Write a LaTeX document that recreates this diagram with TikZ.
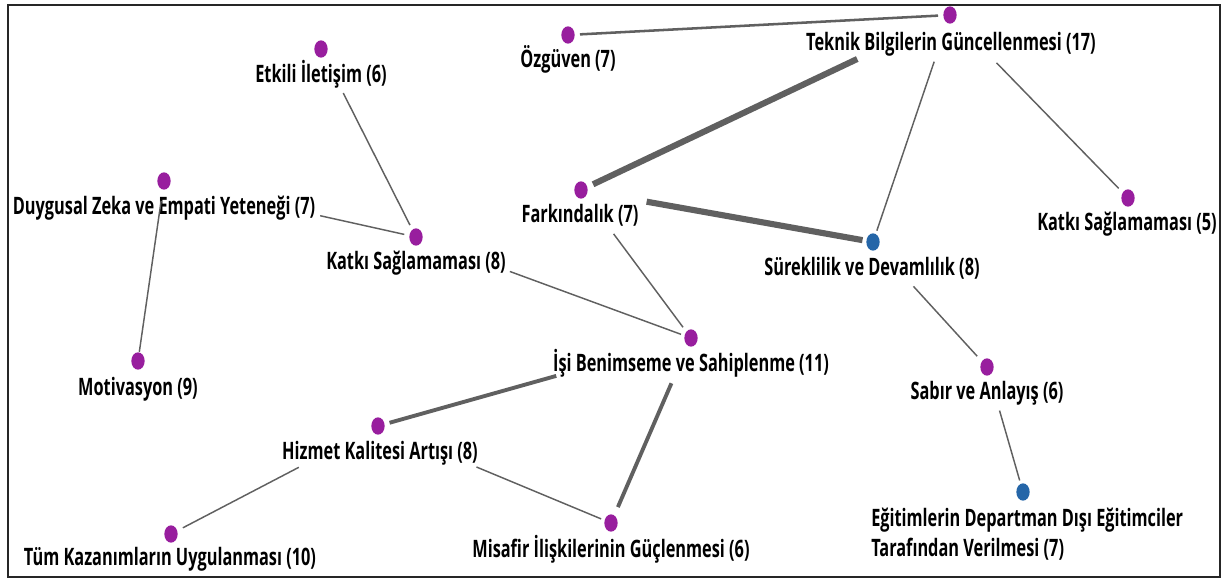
\documentclass[tikz,border=0pt]{standalone}
\usepackage{fontspec}
\setmainfont{Open Sans}[FakeStretch=0.68]
\usetikzlibrary{shapes.geometric}
\definecolor{dotpurple}{RGB}{152,30,158}
\definecolor{dotblue}{RGB}{37,102,168}
\definecolor{edgegray}{RGB}{96,96,96}
\tikzset{
  dotnode/.style={ellipse,fill=#1,draw=none,inner sep=0pt,minimum width=10pt,minimum height=13pt},
  lbl/.style={anchor=base,inner sep=0pt,font=\bfseries\fontsize{18}{24}\selectfont},
  lblw/.style={anchor=base west,inner sep=0pt,font=\bfseries\fontsize{18}{24}\selectfont},
  thinedge/.style={draw=edgegray,line width=1.1pt},
  midedge/.style={draw=edgegray,line width=1.9pt},
  semiedge/.style={draw=edgegray,line width=2.9pt},
  thickedge/.style={draw=edgegray,line width=4.6pt},
}
\begin{document}
\begin{tikzpicture}[x=0.75pt,y=-0.75pt]
\useasboundingbox (0,0) rectangle (1223,578);
\draw[line width=1.3pt,draw=black!85] (8,5) rectangle (1220,577);

% dots
\node[dotnode=dotpurple] (etk) at (321,49) {};
\node[dotnode=dotpurple] (duy) at (164,181) {};
\node[dotnode=dotpurple] (kat8) at (416,237) {};
\node[dotnode=dotpurple] (mot) at (138,361) {};
\node[dotnode=dotpurple] (ozg) at (568,35) {};
\node[dotnode=dotpurple] (tek) at (950,15) {};
\node[dotnode=dotpurple] (far) at (581,190) {};
\node[dotnode=dotblue] (sur) at (873,242) {};
\node[dotnode=dotpurple] (kat5) at (1128,198) {};
\node[dotnode=dotpurple] (isi) at (691,338) {};
\node[dotnode=dotpurple] (sab) at (987,367) {};
\node[dotnode=dotpurple] (hiz) at (378,426) {};
\node[dotnode=dotblue] (egt) at (1023,492) {};
\node[dotnode=dotpurple] (tum) at (171,534) {};
\node[dotnode=dotpurple] (mis) at (611,523) {};

% labels
\node[lbl] (letk) at (321,82) {Etkili İletişim (6)};
\node[lbl] (lduy) at (164,214) {Duygusal Zeka ve Empati Yeteneği (7)};
\node[lbl] (lkat8) at (416,269) {Katkı Sağlamaması (8)};
\node[lbl] (lmot) at (138,395) {Motivasyon (9)};
\node[lbl] (lozg) at (568,67) {Özgüven (7)};
\node[lbl] (ltek) at (951,50) {Teknik Bilgilerin Güncellenmesi (17)};
\node[lbl] (lfar) at (580,222) {Farkındalık (7)};
\node[lbl] (lsur) at (872,275) {Süreklilik ve Devamlılık (8)};
\node[lbl] (lkat5) at (1127,230) {Katkı Sağlamaması (5)};
\node[lbl] (lisi) at (691,371) {İşi Benimseme ve Sahiplenme (11)};
\node[lbl] (lsab) at (987,399) {Sabır ve Anlayış (6)};
\node[lbl] (lhiz) at (380,459) {Hizmet Kalitesi Artışı (8)};
\node[lblw] (legta) at (871,526) {Eğitimlerin Departman Dışı Eğitimciler};
\node[lblw] (legtb) at (871,556) {Tarafından Verilmesi (7)};
\node[lbl] (ltum) at (170,565) {Tüm Kazanımların Uygulanması (10)};
\node[lbl] (lmis) at (611,557) {Misafir İlişkilerinin Güçlenmesi (6)};

% edges
\draw[midedge,shorten <=9pt,shorten >=9pt] (ozg.center) -- (tek.center);
\draw[thickedge,shorten <=77pt,shorten >=10pt] (tek.center) -- (far.center);
\draw[thinedge,shorten <=37pt,shorten >=9pt] (tek.center) -- (sur.center);
\draw[thinedge,shorten <=50pt,shorten >=10pt] (tek.center) -- (kat5.center);
\draw[thickedge,shorten <=50pt,shorten >=8pt] (far.center) -- (sur.center);
\draw[thinedge,shorten <=41pt,shorten >=10pt] (far.center) -- (isi.center);
\draw[thinedge,shorten <=75pt,shorten >=8pt] (kat8.center) -- (isi.center);
\draw[thinedge,shorten <=37pt,shorten >=10pt] (etk.center) -- (kat8.center);
\draw[thinedge,shorten <=120pt,shorten >=9pt] (duy.center) -- (kat8.center);
\draw[thinedge,shorten <=15pt,shorten >=7pt] (duy.center) -- (mot.center);
\draw[semiedge,shorten <=105pt,shorten >=9pt] (isi.center) -- (hiz.center);
\draw[semiedge,shorten <=37pt,shorten >=13pt] (isi.center) -- (mis.center);
\draw[thinedge,shorten <=80pt,shorten >=8pt] (hiz.center) -- (mis.center);
\draw[thinedge,shorten <=67pt,shorten >=10pt] (hiz.center) -- (tum.center);
\draw[thinedge,shorten <=45pt,shorten >=11pt] (sur.center) -- (sab.center);
\draw[thinedge,shorten <=34pt,shorten >=9pt] (sab.center) -- (egt.center);
\end{tikzpicture}
\end{document}
